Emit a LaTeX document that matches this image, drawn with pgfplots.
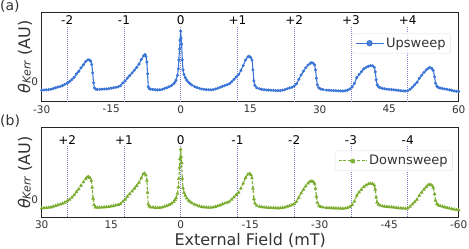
\documentclass[border=0pt]{standalone}
\usepackage{fontspec}
\setmainfont{DejaVu Sans}
\usepackage{pgfplots}
\pgfplotsset{compat=1.18}
\usepackage{pgfplotstable}
\definecolor{upblue}{HTML}{3B75D6}
\definecolor{dngreen}{HTML}{7AAD2F}
\definecolor{vline}{HTML}{7F7FCC}
\definecolor{txt}{HTML}{333333}

\pgfplotstableread{
x y
-30 -0.85
-29.5 -0.82
-29 -0.80
-28.5 -0.78
-28 -0.74
-27.5 -0.68
-27 -0.60
-26.5 -0.52
-26 -0.47
-25.5 -0.38
-25 -0.26
-24.5 -0.14
-24 0.02
-23.5 0.22
-23 0.46
-22.5 0.80
-22 1.05
-21.5 1.42
-21 1.72
-20.5 2.05
-20 2.22
-19.7 2.20
-19.4 2.08
-19.2 1.75
-19.0 0.90
-18.8 -0.10
-18.6 -0.62
-18.3 -0.74
-18 -0.77
-17.5 -0.76
-17 -0.74
-16.5 -0.72
-16 -0.72
-15.5 -0.68
-15 -0.64
-14.5 -0.60
-14 -0.55
-13.5 -0.50
-13 -0.40
-12.5 -0.12
-12 0.08
-11.5 0.38
-11 0.62
-10.5 0.90
-10 1.18
-9.5 1.45
-9 1.78
-8.5 2.25
-8 2.62
-7.7 2.74
-7.5 2.55
-7.3 2.00
-7.15 0.80
-7.0 -0.50
-6.8 -0.68
-6.5 -0.74
-6 -0.77
-5.5 -0.79
-5 -0.81
-4.5 -0.80
-4 -0.76
-3.5 -0.68
-3 -0.60
-2.5 -0.50
-2 -0.38
-1.5 -0.20
-1.2 0.00
-1 0.18
-0.7 0.65
-0.5 1.30
-0.4 2.20
-0.25 3.30
-0.15 4.20
0 5.10
0.1 4.40
0.2 3.80
0.35 2.20
0.5 1.20
0.7 0.75
1 0.42
1.3 0.17
1.7 -0.05
2 -0.18
2.4 -0.32
3 -0.48
3.5 -0.57
4 -0.65
4.5 -0.72
5 -0.76
5.5 -0.78
6 -0.80
6.5 -0.80
7 -0.78
7.5 -0.72
8 -0.64
8.5 -0.56
9 -0.46
9.5 -0.38
10 -0.30
10.5 -0.20
11 0.00
11.5 0.25
12 0.50
12.5 0.72
13 1.15
13.5 1.65
14 2.20
14.5 2.52
14.8 2.58
15.1 2.45
15.4 2.20
15.6 1.20
15.8 0.10
16 -0.35
16.4 -0.60
17 -0.70
17.5 -0.76
18 -0.79
18.5 -0.82
19 -0.83
19.5 -0.85
20 -0.86
20.5 -0.88
21 -0.89
21.5 -0.88
22 -0.84
22.5 -0.78
23 -0.70
23.5 -0.62
24 -0.55
24.5 -0.43
25 -0.20
25.5 0.25
26 0.70
26.5 1.08
27 1.42
27.5 1.70
28 1.88
28.3 1.92
28.6 1.88
28.9 1.70
29.1 1.20
29.3 0.35
29.5 -0.30
29.8 -0.60
30.2 -0.72
30.7 -0.78
31.5 -0.83
32 -0.85
32.5 -0.87
33 -0.88
33.5 -0.89
34 -0.90
34.5 -0.92
35 -0.92
35.5 -0.90
36 -0.84
36.5 -0.72
37 -0.52
37.5 -0.15
38 0.42
38.5 0.75
39 1.02
39.5 1.30
40 1.45
40.5 1.57
41 1.63
41.4 1.62
41.8 1.45
42.0 1.00
42.2 0.20
42.4 -0.30
42.7 -0.50
43 -0.58
43.5 -0.66
44 -0.70
44.5 -0.74
45 -0.76
45.5 -0.78
46 -0.80
46.5 -0.83
47 -0.86
47.5 -0.89
48 -0.91
48.5 -0.93
49 -0.90
49.5 -0.75
50 -0.54
50.5 -0.30
51 -0.05
51.5 0.35
52 0.65
52.5 0.95
53 1.20
53.5 1.38
53.8 1.43
54.2 1.35
54.5 1.15
54.8 0.50
55 -0.15
55.3 -0.45
55.6 -0.56
56 -0.62
56.5 -0.68
57 -0.72
57.5 -0.76
58 -0.80
58.5 -0.86
59 -0.92
59.5 -0.95
60 -0.98
}\up

\pgfplotstableread{
x y
30 -0.90
29.5 -0.87
29 -0.85
28.5 -0.82
28 -0.78
27.5 -0.72
27 -0.64
26.5 -0.56
26 -0.50
25.5 -0.42
25 -0.30
24.5 -0.17
24 -0.02
23.5 0.18
23 0.43
22.5 0.76
22 1.04
21.5 1.40
21 1.74
20.5 2.06
20.2 2.24
19.9 2.26
19.6 2.18
19.3 1.90
19.1 1.20
18.9 0.10
18.7 -0.55
18.4 -0.78
18 -0.82
17.5 -0.82
17 -0.80
16.5 -0.78
16 -0.77
15.5 -0.74
15 -0.70
14.5 -0.66
14 -0.60
13.5 -0.54
13 -0.45
12.5 -0.22
12 0.00
11.5 0.30
11 0.55
10.5 0.82
10 1.10
9.5 1.38
9 1.70
8.5 2.15
8.1 2.55
7.8 2.62
7.5 2.42
7.3 1.90
7.15 0.70
7.0 -0.50
6.8 -0.70
6.5 -0.78
6 -0.80
5.5 -0.83
5 -0.84
4.5 -0.83
4 -0.80
3.5 -0.72
3 -0.64
2.5 -0.54
2 -0.42
1.5 -0.24
1.2 -0.04
1 0.14
0.7 0.60
0.5 1.25
0.4 2.10
0.25 3.20
0.15 4.10
0 5.05
-0.1 4.30
-0.2 3.70
-0.35 2.10
-0.5 1.15
-0.7 0.70
-1 0.38
-1.3 0.12
-1.7 -0.10
-2 -0.22
-2.4 -0.36
-3 -0.52
-3.5 -0.60
-4 -0.68
-4.5 -0.75
-5 -0.78
-5.5 -0.80
-6 -0.82
-6.5 -0.82
-7 -0.80
-7.5 -0.74
-8 -0.66
-8.5 -0.58
-9 -0.48
-9.5 -0.40
-10 -0.32
-10.5 -0.22
-11 -0.02
-11.5 0.22
-12 0.48
-12.5 0.70
-13 1.12
-13.5 1.62
-14 2.18
-14.5 2.52
-14.9 2.60
-15.2 2.45
-15.4 2.15
-15.6 1.10
-15.8 0.05
-16 -0.40
-16.4 -0.62
-17 -0.72
-17.5 -0.77
-18 -0.80
-18.5 -0.82
-19 -0.84
-19.5 -0.85
-20 -0.86
-20.5 -0.87
-21 -0.88
-21.5 -0.87
-22 -0.84
-22.5 -0.79
-23 -0.72
-23.5 -0.64
-24 -0.56
-24.5 -0.45
-25 -0.22
-25.5 0.20
-26 0.64
-26.5 1.00
-27 1.34
-27.5 1.62
-27.9 1.80
-28.3 1.83
-28.6 1.78
-28.9 1.60
-29.1 1.10
-29.3 0.30
-29.5 -0.32
-29.8 -0.62
-30.2 -0.74
-30.7 -0.80
-31.5 -0.84
-32 -0.86
-32.5 -0.87
-33 -0.88
-33.5 -0.89
-34 -0.90
-34.5 -0.91
-35 -0.91
-35.5 -0.90
-36 -0.85
-36.5 -0.74
-37 -0.54
-37.5 -0.18
-38 0.38
-38.5 0.72
-39 1.00
-39.5 1.26
-40 1.42
-40.5 1.54
-40.9 1.60
-41.4 1.58
-41.8 1.42
-42.0 1.00
-42.2 0.20
-42.4 -0.30
-42.7 -0.52
-43 -0.60
-43.5 -0.67
-44 -0.71
-44.5 -0.74
-45 -0.76
-45.5 -0.78
-46 -0.80
-46.5 -0.83
-47 -0.86
-47.5 -0.88
-48 -0.90
-48.5 -0.92
-49 -0.88
-49.5 -0.72
-50 -0.50
-50.5 -0.26
-51 0.00
-51.5 0.40
-52 0.70
-52.5 1.00
-53 1.26
-53.4 1.45
-53.8 1.50
-54.2 1.42
-54.5 1.20
-54.8 0.55
-55 -0.10
-55.3 -0.45
-55.6 -0.58
-56 -0.65
-56.5 -0.72
-57 -0.78
-57.5 -0.84
-58 -0.90
-58.5 -0.96
-59 -1.00
-59.5 -1.04
-60 -1.07
}\down

\tikzset{pk/.style={font=\fontsize{12bp}{14bp}\selectfont, text=black}}
\pgfplotsset{
  panel/.style={
    scale only axis, width=417bp, height=89.4bp,
    axis line style={black!85, line width=0.9bp},
    major tick length=0pt,
    tick style={draw=none},
    ytick={0}, yticklabels={0},
    tick label style={font=\fontsize{10.5bp}{12bp}\selectfont, text=txt},
    label style={font=\fontsize{16bp}{18bp}\selectfont, text=txt},
    legend style={font=\fontsize{13bp}{15bp}\selectfont, text=txt,
      draw=black!12, rounded corners=2bp, fill=white, fill opacity=0.85, text opacity=1,
      inner xsep=3bp, inner ysep=2.5bp, anchor=north east},
    legend cell align=left,
  },
  vl/.style={vline, line width=0.7bp, dash pattern=on 0.9bp off 1.1bp, forget plot},
}

\begin{document}
\begin{tikzpicture}
\path[use as bounding box] (0bp,0bp) rectangle (469bp,249bp);
\node[anchor=north west, inner sep=0pt, font=\fontsize{14bp}{16bp}\selectfont, text=txt] at (0bp,249bp) {(a)};
\node[anchor=north west, inner sep=0pt, font=\fontsize{14bp}{16bp}\selectfont, text=txt] at (0bp,134bp) {(b)};

\begin{axis}[panel, at={(41.7bp,147.3bp)}, anchor=south west,
  xmin=-30, xmax=60, ymin=-2, ymax=7,
  xtick={-30,-15,0,15,30,45,60}, xticklabels={-30,-15,0,15,30,45,60},
  ylabel={{\itshape θ}\raisebox{-0.04em}{\fontsize{11bp}{12bp}\selectfont\itshape Kerr} (AU)},
  ylabel style={at={(axis description cs:-0.028,0.5)}, anchor=base},
  legend style={at={(rel axis cs:0.981,0.768)}},
  legend image code/.code={\draw[line width=1.2bp] (0bp,0bp) -- (28bp,0bp); \fill (14bp,0bp) circle (2.6bp);},
]
\addplot[vl] coordinates {(-24.5,-2) (-24.5,5.5)};
\addplot[vl] coordinates {(-12.25,-2) (-12.25,5.5)};
\addplot[vl] coordinates {(0,-2) (0,5.5)};
\addplot[vl] coordinates {(12.25,-2) (12.25,5.5)};
\addplot[vl] coordinates {(24.5,-2) (24.5,5.5)};
\addplot[vl] coordinates {(36.75,-2) (36.75,5.5)};
\addplot[vl] coordinates {(49,-2) (49,5.5)};
\node[pk] at (axis cs:-24.5,6.17) {-2};
\node[pk] at (axis cs:-12.25,6.17) {-1};
\node[pk] at (axis cs:0,6.17) {0};
\node[pk] at (axis cs:12.25,6.17) {+1};
\node[pk] at (axis cs:24.5,6.17) {+2};
\node[pk] at (axis cs:36.75,6.17) {+3};
\node[pk] at (axis cs:49,6.17) {+4};
\addplot[upblue, line width=1.1bp, mark=*, mark size=0.9bp] table {\up};
\addlegendentry{Upsweep}
\end{axis}

\begin{axis}[panel, at={(41.7bp,31.7bp)}, anchor=south west,
  x dir=reverse, xmin=-60, xmax=30, ymin=-1.8, ymax=7.2,
  xtick={30,15,0,-15,-30,-45,-60}, xticklabels={30,15,0,-15,-30,-45,-60},
  xlabel={External Field (mT)},
  xlabel style={at={(axis description cs:0.5,0)}, anchor=base, yshift=-28.4bp},
  ylabel={{\itshape θ}\raisebox{-0.04em}{\fontsize{11bp}{12bp}\selectfont\itshape Kerr} (AU)},
  ylabel style={at={(axis description cs:-0.028,0.5)}, anchor=base},
  legend style={at={(rel axis cs:0.986,0.746)}},
  legend image code/.code={\draw[line width=1.1bp, dash pattern=on 3bp off 1.6bp] (0bp,0bp) -- (28bp,0bp); \fill (14bp,3bp) -- (10.8bp,-2bp) -- (17.2bp,-2bp) -- cycle;},
]
\addplot[vl] coordinates {(24.5,-1.8) (24.5,5.4)};
\addplot[vl] coordinates {(12.25,-1.8) (12.25,5.4)};
\addplot[vl] coordinates {(0,-1.8) (0,5.4)};
\addplot[vl] coordinates {(-12.25,-1.8) (-12.25,5.4)};
\addplot[vl] coordinates {(-24.5,-1.8) (-24.5,5.4)};
\addplot[vl] coordinates {(-36.75,-1.8) (-36.75,5.4)};
\addplot[vl] coordinates {(-49,-1.8) (-49,5.4)};
\node[pk] at (axis cs:24.5,6.0) {+2};
\node[pk] at (axis cs:12.25,6.0) {+1};
\node[pk] at (axis cs:0,6.0) {0};
\node[pk] at (axis cs:-12.25,6.0) {-1};
\node[pk] at (axis cs:-24.5,6.0) {-2};
\node[pk] at (axis cs:-36.75,6.0) {-3};
\node[pk] at (axis cs:-49,6.0) {-4};
\addplot[dngreen, line width=1.1bp, dash pattern=on 3bp off 1.6bp, mark=triangle*, mark size=1.1bp, mark options={solid}] table {\down};
\addlegendentry{Downsweep}
\end{axis}
\end{tikzpicture}
\end{document}
